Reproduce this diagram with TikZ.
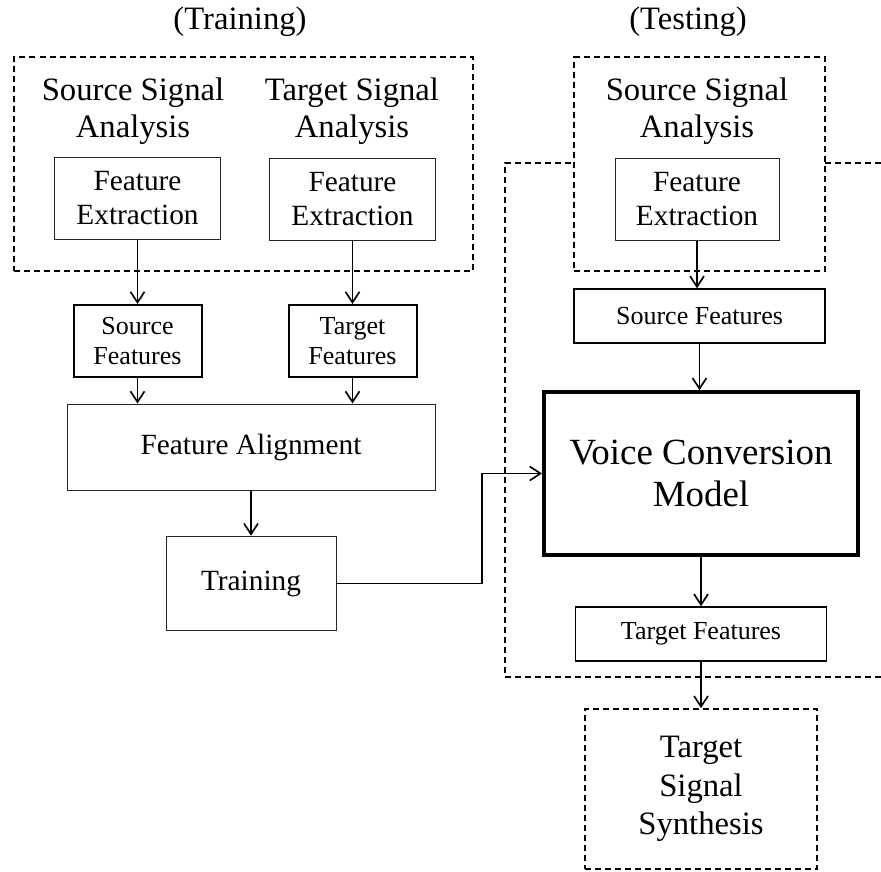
\documentclass[tikz,border=0pt]{standalone}
\usepackage{fontspec}
\setmainfont{Liberation Serif}
\usetikzlibrary{arrows.meta,positioning,calc}

\tikzset{
  blk/.style={draw=black!85, line width=0.75pt, rectangle, fill=white, align=center, inner sep=0pt, font=\fontsize{22}{25.5}\selectfont},
  featbox/.style={blk, draw=black, line width=1.5pt, font=\fontsize{19.5}{23}\selectfont},
  featline/.style={blk, draw=black, line width=1.1pt, font=\fontsize{19.5}{23}\selectfont},
  dashline/.style={draw=black, line width=1.3pt, dash pattern=on 4.5pt off 3pt},
  grp/.style={dashline, rectangle, inner sep=0pt},
  lbl/.style={align=center, inner sep=0pt, font=\fontsize{24.5}{28}\selectfont},
  flow/.style={-{Straight Barb[length=8pt,width=10.5pt]}, line width=1.25pt},
}

\begin{document}
\begin{tikzpicture}[x=0.75pt,y=-0.75pt]
\useasboundingbox (0,0) rectangle (881,871);

% training side
\node [lbl] (traintitle) at (240,22) {(Training)};
\node [grp, minimum width=344pt, minimum height=160.5pt] (traingrp) at (243.5,164) {};
\node [lbl] (srcana) at (133,111) {Source Signal\\Analysis};
\node [lbl] (tgtana) at (352,111) {Target Signal\\Analysis};

\node [blk, minimum width=124pt, minimum height=62pt] (srcfe) at (137.5,198.5) {Feature\\Extraction};
\node [blk, minimum width=124pt, minimum height=62pt] (tgtfe) at (352.5,199.5) {Feature\\Extraction};

\node [featbox, minimum width=96pt, minimum height=54pt] (srcfeat) at (137.5,341) {Source\\Features};
\node [featbox, minimum width=96pt, minimum height=54pt] (tgtfeat) at (352.5,341) {Target\\Features};

\node [blk, minimum width=276pt, minimum height=64.5pt] (align) at (251,447) {Feature Alignment};
\node [blk, minimum width=127.5pt, minimum height=71pt] (train) at (251,583.5) {Training};

\draw [flow] (srcfe) -- (srcfeat);
\draw [flow] (tgtfe) -- (tgtfeat);
\draw [flow] (srcfeat.south) -- (srcfeat.south |- align.north);
\draw [flow] (tgtfeat.south) -- (tgtfeat.south |- align.north);
\draw [flow] (align) -- (train);

% testing side
\node [lbl] (testtitle) at (688,22) {(Testing)};
\draw [dashline] (881,163) -- (505,163) -- (505,677) -- (881,677);
\node [grp, fill=white, minimum width=188pt, minimum height=160.5pt] (testgrp) at (699.5,164) {};
\node [lbl] (testana) at (697,111) {Source Signal\\Analysis};
\node [blk, minimum width=123pt, minimum height=62pt] (testfe) at (697,199.5) {Feature\\Extraction};

\node [featline, minimum width=188pt, minimum height=40.5pt] (testsrc) at (699.5,316) {Source Features};
\node [blk, draw=black, line width=3pt, minimum width=235.5pt, minimum height=122pt, font=\fontsize{27.7}{31.5}\selectfont] (vcm) at (701,473.5) {Voice Conversion\\Model};
\node [featline, minimum width=188pt, minimum height=40.5pt] (testtgt) at (701,634) {Target Features};
\node [grp, fill=white, minimum width=174pt, minimum height=120pt, align=center, font=\fontsize{24.5}{29}\selectfont] (synth) at (701,789) {Target\\Signal\\Synthesis};

\draw [flow] (testfe.south) -- (testfe.south |- testsrc.north);
\draw [flow] (testsrc.south) -- (testsrc.south |- vcm.north);
\draw [flow] (vcm) -- (testtgt);
\draw [flow] (testtgt) -- (synth);

% training result into the model
\coordinate (bend) at (482,582.5);
\draw [flow] (train.east) -- (train.east -| bend) |- (vcm.west);

\end{tikzpicture}
\end{document}
